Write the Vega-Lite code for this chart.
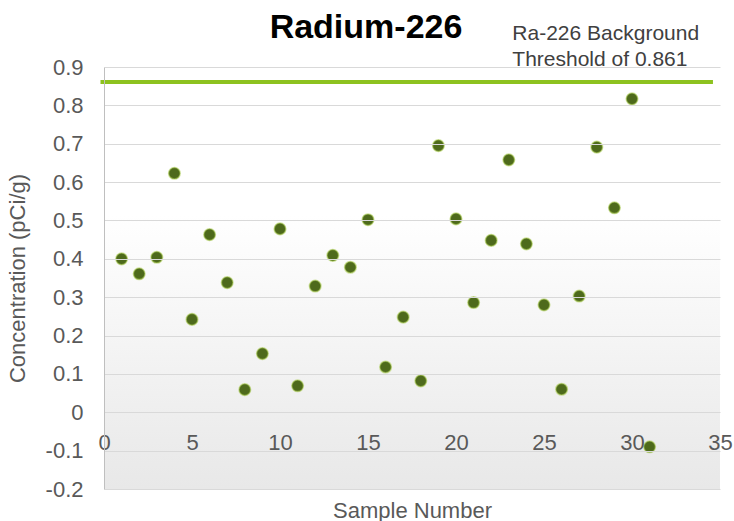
{
  "$schema": "https://vega.github.io/schema/vega-lite/v6.json",
  "width": 616,
  "height": 422,
  "autosize": "none",
  "padding": {"left": 104, "top": 67, "right": 14, "bottom": 32},
  "background": "white",
  "title": {
    "text": "Radium-226",
    "fontSize": 34,
    "fontWeight": "bold",
    "font": "Liberation Sans",
    "color": "#000000",
    "anchor": "middle",
    "dx": -46,
    "dy": 33,
    "baseline": "alphabetic",
    "offset": -16
  },
  "config": {
    "view": {"stroke": null},
    "font": "Liberation Sans",
    "axisY": {
      "grid": true,
      "gridColor": "#d9d9d9",
      "gridWidth": 1,
      "domainColor": "#bfbfbf",
      "domainWidth": 1,
      "ticks": false,
      "labelFontSize": 22,
      "labelColor": "#595959",
      "labelPadding": 21,
      "titleFontSize": 22,
      "titleColor": "#595959",
      "titleFontWeight": "normal",
      "titlePadding": 16
    },
    "axisX": {
      "grid": false,
      "domain": false,
      "ticks": false,
      "labelFlush": false,
      "labelOverlap": false,
      "labelFontSize": 22,
      "labelColor": "#595959",
      "labelPadding": 20,
      "titleFontSize": 22,
      "titleColor": "#595959",
      "titleFontWeight": "normal",
      "titleBaseline": "alphabetic",
      "titleY": 105
    }
  },
  "datasets": {
    "samples": [
      {"sample": 1, "conc": 0.40},
      {"sample": 2, "conc": 0.361},
      {"sample": 3, "conc": 0.404},
      {"sample": 4, "conc": 0.623},
      {"sample": 5, "conc": 0.242},
      {"sample": 6, "conc": 0.463},
      {"sample": 7, "conc": 0.338},
      {"sample": 8, "conc": 0.059},
      {"sample": 9, "conc": 0.153},
      {"sample": 10, "conc": 0.478},
      {"sample": 11, "conc": 0.069},
      {"sample": 12, "conc": 0.329},
      {"sample": 13, "conc": 0.409},
      {"sample": 14, "conc": 0.378},
      {"sample": 15, "conc": 0.502},
      {"sample": 16, "conc": 0.118},
      {"sample": 17, "conc": 0.248},
      {"sample": 18, "conc": 0.082},
      {"sample": 19, "conc": 0.695},
      {"sample": 20, "conc": 0.504},
      {"sample": 21, "conc": 0.286},
      {"sample": 22, "conc": 0.448},
      {"sample": 23, "conc": 0.658},
      {"sample": 24, "conc": 0.439},
      {"sample": 25, "conc": 0.28},
      {"sample": 26, "conc": 0.06},
      {"sample": 27, "conc": 0.303},
      {"sample": 28, "conc": 0.691},
      {"sample": 29, "conc": 0.533},
      {"sample": 30, "conc": 0.817},
      {"sample": 31, "conc": -0.09}
    ],
    "plotArea": [{"x1": 0, "x2": 35, "y1": -0.2, "y2": 0.9}],
    "threshold": [{"start": -0.2, "end": 34.6, "value": 0.861}],
    "notes": [
      {"x": 23.2, "y": 0.987, "label": "Ra-226 Background"},
      {"x": 23.2, "y": 0.917, "label": "Threshold of 0.861"}
    ]
  },
  "layer": [
    {
      "data": {"name": "plotArea"},
      "mark": {
        "type": "rect",
        "color": {
          "gradient": "linear",
          "x1": 0, "y1": 0, "x2": 0, "y2": 1,
          "stops": [
            {"offset": 0, "color": "#ffffff"},
            {"offset": 0.35, "color": "#ffffff"},
            {"offset": 1, "color": "#e8e8e8"}
          ]
        }
      },
      "encoding": {
        "x": {"field": "x1", "type": "quantitative", "title": "Sample Number",
              "scale": {"domain": [0, 35], "nice": false, "zero": false},
              "axis": {"values": [0, 5, 10, 15, 20, 25, 30, 35], "offset": -77, "zindex": 1}},
        "x2": {"field": "x2"},
        "y": {"field": "y1", "type": "quantitative", "title": "Concentration (pCi/g)",
              "scale": {"domain": [-0.2, 0.9], "nice": false, "zero": false},
              "axis": {"values": [-0.2, -0.1, 0, 0.1, 0.2, 0.3, 0.4, 0.5, 0.6, 0.7, 0.8, 0.9],
                       "labelExpr": "toString(round(datum.value*10)/10)", "zindex": 1}},
        "y2": {"field": "y2"}
      }
    },
    {
      "data": {"name": "threshold"},
      "mark": {"type": "rule", "color": "#8dc21f", "strokeWidth": 4},
      "encoding": {
        "x": {"field": "start", "type": "quantitative", "title": "Sample Number",
              "axis": {"values": [0, 5, 10, 15, 20, 25, 30, 35], "offset": -77, "zindex": 1}},
        "x2": {"field": "end"},
        "y": {"field": "value", "type": "quantitative", "title": "Concentration (pCi/g)",
              "axis": {"values": [-0.2, -0.1, 0, 0.1, 0.2, 0.3, 0.4, 0.5, 0.6, 0.7, 0.8, 0.9],
                       "labelExpr": "toString(round(datum.value*10)/10)", "zindex": 1}}
      }
    },
    {
      "data": {"name": "samples"},
      "mark": {"type": "point", "filled": true, "shape": "circle", "size": 135,
               "color": "#4e6a1c", "opacity": 1,
               "stroke": "#a9cc4e", "strokeWidth": 1.5, "strokeOpacity": 0.55},
      "encoding": {
        "x": {"field": "sample", "type": "quantitative", "title": "Sample Number",
              "axis": {"values": [0, 5, 10, 15, 20, 25, 30, 35], "offset": -77, "zindex": 1}},
        "y": {"field": "conc", "type": "quantitative", "title": "Concentration (pCi/g)",
              "axis": {"values": [-0.2, -0.1, 0, 0.1, 0.2, 0.3, 0.4, 0.5, 0.6, 0.7, 0.8, 0.9],
                       "labelExpr": "toString(round(datum.value*10)/10)", "zindex": 1}}
      }
    },
    {
      "data": {"name": "notes"},
      "mark": {"type": "text", "align": "left", "baseline": "middle",
               "fontSize": 21, "color": "#404040", "font": "Liberation Sans"},
      "encoding": {
        "x": {"field": "x", "type": "quantitative", "title": "Sample Number",
              "axis": {"values": [0, 5, 10, 15, 20, 25, 30, 35], "offset": -77, "zindex": 1}},
        "y": {"field": "y", "type": "quantitative", "title": "Concentration (pCi/g)",
              "axis": {"values": [-0.2, -0.1, 0, 0.1, 0.2, 0.3, 0.4, 0.5, 0.6, 0.7, 0.8, 0.9],
                       "labelExpr": "toString(round(datum.value*10)/10)", "zindex": 1}},
        "text": {"field": "label"}
      }
    }
  ]
}
